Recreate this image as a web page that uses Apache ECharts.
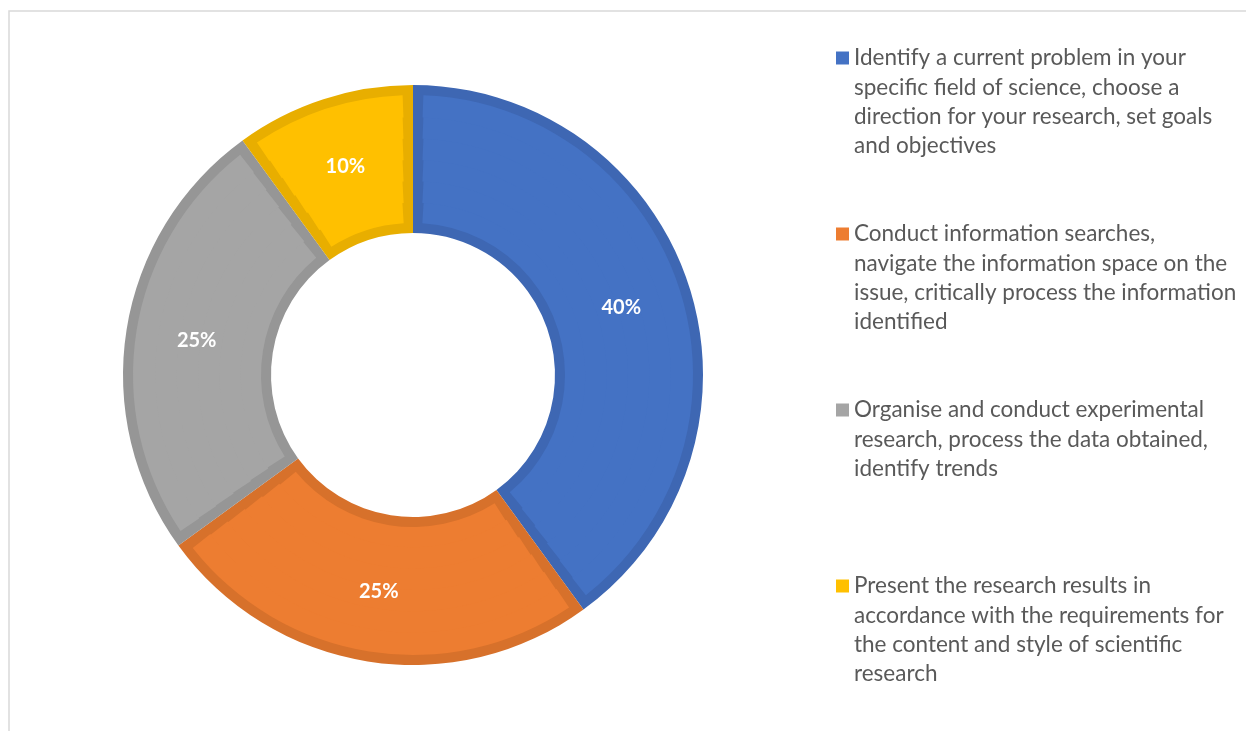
<!DOCTYPE html>
<html>
<head>
<meta charset="utf-8">
<title>Research skills</title>
<script src="https://cdn.jsdelivr.net/npm/echarts@6/dist/echarts.min.js"></script>
<style>
  html, body { margin: 0; padding: 0; background: #ffffff; }
  #chart { width: 1246px; height: 731px; }
</style>
</head>
<body>
<div id="chart"></div>
<script>
// Skill categories (line breaks are part of the legend text)
const categories = [
  'Identify a current problem in your\nspecific field of science, choose a\ndirection for your research, set goals\nand objectives',
  'Conduct information searches,\nnavigate the information space on the\nissue, critically process the information\nidentified',
  'Organise and conduct experimental\nresearch, process the data obtained,\nidentify trends',
  'Present the research results in\naccordance with the requirements for\nthe content and style of scientific\nresearch'
];
// Share of each category, percent
const shares = [40, 25, 25, 10];

// Slice fills and their darker outlines
const fillColors = ['#4472C4', '#ED7D31', '#A5A5A5', '#FFC000'];
const edgeColors = ['#3E67B3', '#D7712B', '#969696', '#E8AE00'];

const CENTER = [413, 375];
const R_IN = 142, R_OUT = 290, EDGE = 10;
const LINE_H = 29.4;
const SWATCH = 13;
const FONT = 'Lato, "Open Sans", sans-serif';

const pieData = (colors) => categories.map((name, i) => ({
  name, value: shares[i], itemStyle: colors ? { color: colors[i] } : undefined
}));

const series = [];

// Outline layer: full ring in the darker shades
series.push({
  type: 'pie', center: CENTER, radius: [R_IN, R_OUT],
  startAngle: 90, clockwise: true, silent: true,
  label: { show: false }, labelLine: { show: false },
  itemStyle: { borderWidth: 0 },
  data: pieData(edgeColors)
});

// Fill layer: split into thin rings so the padded gap keeps a near-constant width
const RINGS = 6;
const fillIn = R_IN + EDGE, fillOut = R_OUT - EDGE;
const step = (fillOut - fillIn) / RINGS;
for (let k = 0; k < RINGS; k++) {
  const r0 = fillIn + k * step;
  const r1 = r0 + step;
  const mid = (r0 + r1) / 2;
  const pad = (2 * EDGE / mid) * 180 / Math.PI;
  series.push({
    type: 'pie', center: CENTER,
    radius: [k === 0 ? r0 : r0 - 1, r1],
    startAngle: 90, clockwise: true, silent: true,
    padAngle: pad,
    label: { show: false }, labelLine: { show: false },
    itemStyle: { borderWidth: 0 },
    data: pieData(fillColors)
  });
}

// Percentage labels on top (transparent sectors)
series.push({
  type: 'pie', center: CENTER, radius: [R_IN, R_OUT],
  startAngle: 90, clockwise: true, silent: true, z: 5,
  itemStyle: { color: 'rgba(0,0,0,0)', borderWidth: 0 },
  label: {
    show: true, position: 'inside', formatter: '{c}%',
    color: '#ffffff', fontFamily: FONT, fontWeight: 'bold', fontSize: 20
  },
  labelLine: { show: false },
  data: pieData(null)
});

// Swatch icon: a square level with the first text line of an n-line block
function swatchPath(n) {
  const h = n * LINE_H;
  const t = LINE_H / 2 - SWATCH / 2;
  return 'path://M0,0L0,0M0,' + h + 'L0,' + h +
    'M0,' + t + 'L' + SWATCH + ',' + t + 'L' + SWATCH + ',' + (t + SWATCH) +
    'L0,' + (t + SWATCH) + 'Z';
}

// One legend block per category
const firstLineY = [58, 234, 410, 586];
const legends = categories.map((name, i) => {
  const n = name.split('\n').length;
  return {
    orient: 'vertical', left: 836,
    top: firstLineY[i] - LINE_H / 2,
    padding: 0, selectedMode: false,
    itemWidth: SWATCH, itemHeight: n * LINE_H,
    data: [{
      name, icon: swatchPath(n),
      itemStyle: { color: fillColors[i], borderWidth: 0 }
    }],
    textStyle: {
      color: '#595959', fontFamily: FONT, fontSize: 22.5, lineHeight: LINE_H
    }
  };
});

const chart = echarts.init(document.getElementById('chart'), null, { renderer: 'canvas' });
chart.setOption({
  backgroundColor: '#ffffff',
  animation: false,
  legend: legends,
  graphic: [{
    type: 'rect', silent: true,
    shape: { x: 9, y: 11, width: 1400, height: 900 },
    style: { fill: 'none', stroke: '#D9D9D9', lineWidth: 1.5 }
  }],
  series
});
</script>
</body>
</html>
